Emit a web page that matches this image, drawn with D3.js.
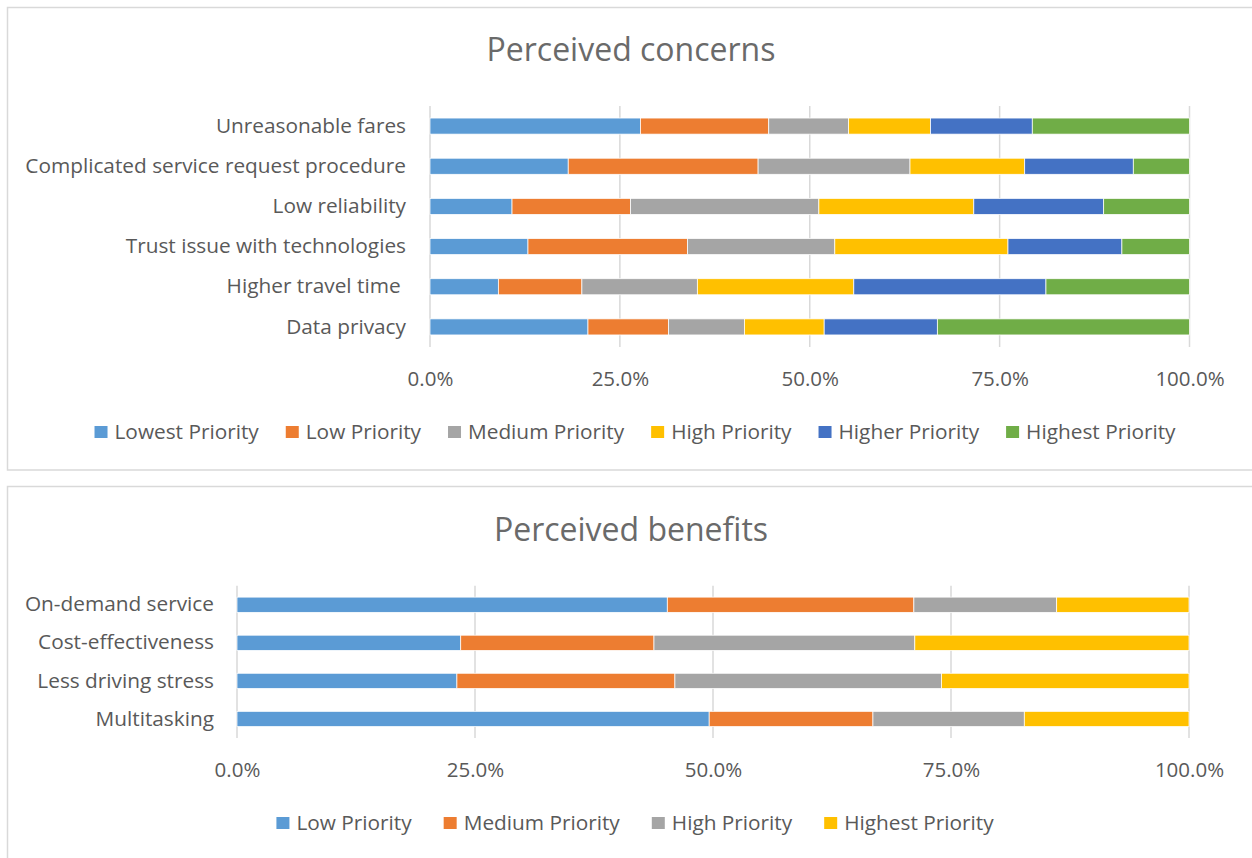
<!DOCTYPE html>
<html>
<head>
<meta charset="utf-8">
<script src="https://cdn.jsdelivr.net/npm/d3@7"></script>
<style>
  body { margin: 0; background: #fff; }
  text { font-family: "Open Sans", sans-serif; fill: #595959; white-space: pre; }
</style>
</head>
<body>
<script>
// values, in percent

// --- Perceived concerns ---
var concernCategories = ["Unreasonable fares", "Complicated service request procedure", "Low reliability",
                         "Trust issue with technologies", "Higher travel time ", "Data privacy"];
var concernSeries = ["Lowest Priority", "Low Priority", "Medium Priority", "High Priority", "Higher Priority", "Highest Priority"];
var concernLowest  = [27.7, 18.2, 10.8, 12.9,  9.0, 20.8];
var concernLow     = [16.9, 25.0, 15.6, 21.0, 11.0, 10.6];
var concernMedium  = [10.5, 20.0, 24.8, 19.4, 15.2, 10.0];
var concernHigh    = [10.8, 15.1, 20.4, 22.8, 20.6, 10.5];
var concernHigher  = [13.4, 14.3, 17.1, 15.0, 25.3, 14.9];
var concernHighest = [20.7,  7.4, 11.3,  8.9, 18.9, 33.2];

// --- Perceived benefits ---
var benefitCategories = ["On-demand service", "Cost-effectiveness", "Less driving stress", "Multitasking"];
var benefitSeries = ["Low Priority", "Medium Priority", "High Priority", "Highest Priority"];
var benefitLow     = [45.2, 23.5, 23.1, 49.6];
var benefitMedium  = [25.9, 20.3, 22.9, 17.2];
var benefitHigh    = [15.0, 27.4, 28.0, 15.9];
var benefitHighest = [13.9, 28.8, 26.0, 17.3];

var tickValues = [0, 25, 50, 75, 100];

var palette = ["#5B9BD5", "#ED7D31", "#A5A5A5", "#FFC000", "#4472C4", "#70AD47"];

var w = 1252;
var h = 858;

var svg = d3.select("body").append("svg").attr("width", w).attr("height", h);

drawChart({
  boxY: 7.5, boxH: 462.5,
  title: "Perceived concerns", titleY: 50,
  categories: concernCategories,
  series: concernSeries,
  values: [concernLowest, concernLow, concernMedium, concernHigh, concernHigher, concernHighest],
  x0: 430, x1: 1189.5, y0: 106, y1: 347,
  labelPad: 24, tickY: 379, legendY: 432, legendGap: 27
});

drawChart({
  boxY: 486.5, boxH: 400,
  title: "Perceived benefits", titleY: 530,
  categories: benefitCategories,
  series: benefitSeries,
  values: [benefitLow, benefitMedium, benefitHigh, benefitHighest],
  x0: 237, x1: 1189, y0: 585.7, y1: 738,
  labelPad: 23, tickY: 770, legendY: 823, legendGap: 32
});

function drawChart(opt) {
  var g = svg.append("g");

  // chart frame
  g.append("rect")
    .attr("x", 7.5).attr("y", opt.boxY)
    .attr("width", 1260).attr("height", opt.boxH)
    .attr("fill", "#fff")
    .attr("stroke", "#d9d9d9")
    .attr("stroke-width", 1.5);

  g.append("text")
    .attr("x", 631).attr("y", opt.titleY)
    .attr("dy", "0.35em")
    .attr("text-anchor", "middle")
    .style("font-size", "32px")
    .style("fill", "#6a6a6a")
    .text(opt.title);

  var x = d3.scaleLinear().domain([0, 100]).range([opt.x0, opt.x1]);
  var y = d3.scaleBand().domain(opt.categories).range([opt.y0, opt.y1])
    .paddingInner(0.6).paddingOuter(0.3);

  // gridlines
  g.append("g").selectAll("line")
    .data(tickValues)
    .enter().append("line")
    .attr("x1", function(d) { return x(d); })
    .attr("x2", function(d) { return x(d); })
    .attr("y1", opt.y0).attr("y2", opt.y1)
    .attr("stroke", "#d9d9d9")
    .attr("stroke-width", 1.5);

  // stack the rows
  var rows = opt.categories.map(function(c, i) {
    var r = { cat: c };
    opt.series.forEach(function(s, j) { r[s] = opt.values[j][i]; });
    return r;
  });
  var stacked = d3.stack().keys(opt.series)(rows);

  g.append("g").selectAll("g")
    .data(stacked)
    .enter().append("g")
    .attr("fill", function(d, i) { return palette[i]; })
    .selectAll("rect")
    .data(function(d) { return d; })
    .enter().append("rect")
    .attr("x", function(d) { return x(d[0]); })
    .attr("width", function(d) { return x(d[1]) - x(d[0]); })
    .attr("y", function(d) { return y(d.data.cat); })
    .attr("height", y.bandwidth())
    .attr("stroke", "#fff")
    .attr("stroke-width", 0.75);

  // category labels
  var yAxis = g.append("g")
    .attr("transform", "translate(" + opt.x0 + ",0)")
    .call(d3.axisLeft(y).tickSize(0).tickPadding(opt.labelPad));
  yAxis.select(".domain").remove();
  yAxis.selectAll("text")
    .style("font-size", "20.8px")
    .style("font-family", null)
    .attr("fill", null);

  // percent ticks
  var xAxis = g.append("g")
    .attr("transform", "translate(0," + opt.tickY + ")")
    .call(d3.axisBottom(x).tickValues(tickValues).tickSize(0).tickPadding(0)
      .tickFormat(function(d) { return d.toFixed(1) + "%"; }));
  xAxis.select(".domain").remove();
  xAxis.selectAll("text")
    .attr("y", 0)
    .attr("dy", "0.35em")
    .style("font-size", "20.5px")
    .style("font-family", null)
    .attr("fill", null);

  // legend, centred under the chart
  var leg = g.append("g");
  var items = leg.selectAll("g")
    .data(opt.series)
    .enter().append("g");
  items.append("rect")
    .attr("width", 13).attr("height", 12)
    .attr("y", opt.legendY - 6)
    .attr("fill", function(d, i) { return palette[i]; });
  items.append("text")
    .attr("x", 20)
    .attr("y", opt.legendY)
    .attr("dy", "0.35em")
    .style("font-size", "20.8px")
    .text(function(d) { return d; });

  var pos = 0;
  items.each(function() {
    var tw = d3.select(this).select("text").node().getComputedTextLength();
    d3.select(this).attr("data-x", pos);
    pos += 20 + tw + opt.legendGap;
  });
  var total = pos - opt.legendGap;
  var start = 635 - total / 2;
  items.attr("transform", function() {
    return "translate(" + (start + (+d3.select(this).attr("data-x"))) + ",0)";
  });
}
</script>
</body>
</html>
